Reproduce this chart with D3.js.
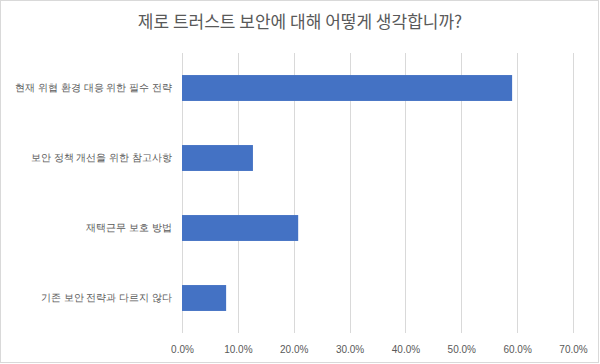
<!DOCTYPE html>
<html>
<head>
<meta charset="utf-8">
<script src="https://cdn.jsdelivr.net/npm/d3@7"></script>
<style>
  body { margin: 0; background: #fff; }
  svg { display: block; font-family: "Noto Sans CJK KR", "Noto Sans", sans-serif; }
</style>
</head>
<body>
<svg></svg>
<script>
// chart data
const categories = [
    "현재 위협 환경 대응 위한 필수 전략",
    "보안 정책 개선을 위한 참고사항",
    "재택근무 보호 방법",
    "기존 보안 전략과 다르지 않다"
];
const values = [0.591, 0.127, 0.208, 0.079];
const xTicks = [0, 0.1, 0.2, 0.3, 0.4, 0.5, 0.6, 0.7];
const title = "제로 트러스트 보안에 대해 어떻게 생각합니까?";

const W = 600, H = 364;
const margin = { top: 53, right: 27, bottom: 31, left: 182 };

const svg = d3.select("svg")
    .attr("width", W)
    .attr("height", H);

// outer frame
svg.append("rect")
    .attr("x", 0.5).attr("y", 0.5)
    .attr("width", W - 2).attr("height", H - 2)
    .attr("fill", "#fff")
    .attr("stroke", "#d9d9d9");

const x = d3.scaleLinear()
    .domain([0, 0.7])
    .range([margin.left, W - margin.right]);

const y = d3.scaleBand()
    .domain(categories)
    .range([margin.top, H - margin.bottom])
    .paddingInner(0.63)
    .paddingOuter(0.315);

// gridlines
svg.append("g")
    .selectAll("line")
    .data(xTicks)
    .enter()
    .append("line")
    .attr("x1", d => Math.round(x(d)) + 0.5)
    .attr("x2", d => Math.round(x(d)) + 0.5)
    .attr("y1", margin.top)
    .attr("y2", H - margin.bottom)
    .attr("stroke", "#d9d9d9");

// bars
svg.append("g")
    .selectAll("rect")
    .data(categories)
    .enter()
    .append("rect")
    .attr("x", x(0))
    .attr("y", d => y(d))
    .attr("width", (d, i) => x(values[i]) - x(0))
    .attr("height", y.bandwidth())
    .attr("fill", "#4472c4");

// x axis labels
const xAxis = svg.append("g")
    .attr("transform", `translate(0,${H - margin.bottom})`)
    .call(d3.axisBottom(x).tickValues(xTicks).tickFormat(d3.format(".1%")).tickSize(0).tickPadding(13));
xAxis.select(".domain").remove();
xAxis.selectAll("text")
    .attr("fill", "#595959")
    .style("font-size", "10px");

// y axis labels
const yAxis = svg.append("g")
    .attr("transform", `translate(${margin.left},0)`)
    .call(d3.axisLeft(y).tickSize(0).tickPadding(10));
yAxis.select(".domain").remove();
yAxis.selectAll("text")
    .attr("fill", "#595959")
    .style("font-size", "10px");

// title
svg.append("text")
    .attr("x", W / 2)
    .attr("y", 28)
    .attr("text-anchor", "middle")
    .attr("fill", "#595959")
    .style("font-size", "17px")
    .text(title);
</script>
</body>
</html>
